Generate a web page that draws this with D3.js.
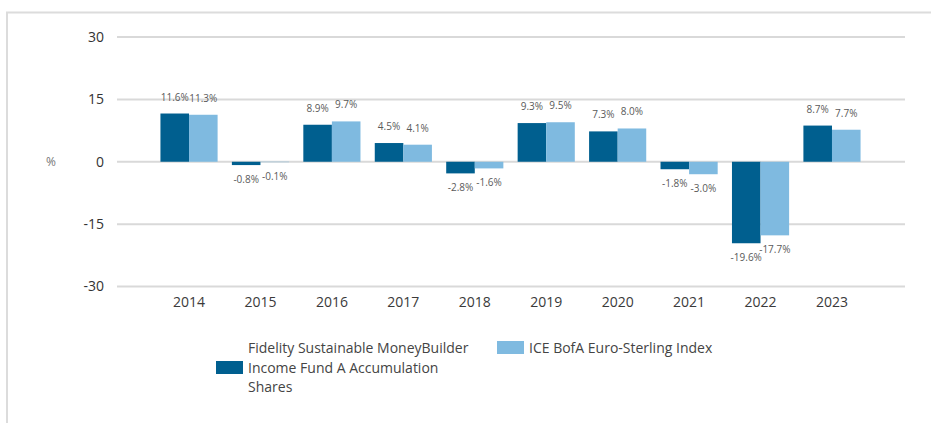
<!DOCTYPE html>
<html>
<head>
<meta charset="utf-8">
<script src="https://cdn.jsdelivr.net/npm/d3@7"></script>
<style>
  body { margin: 0; background: #fff; }
  svg text { font-family: 'Open Sans', sans-serif; }
</style>
</head>
<body>
<div id="chart"></div>
<script>
'use strict';

// Chart data
const years = ['2014', '2015', '2016', '2017', '2018', '2019', '2020', '2021', '2022', '2023'];
const fundValues = [11.6, -0.8, 8.9, 4.5, -2.8, 9.3, 7.3, -1.8, -19.6, 8.7];
const indexValues = [11.3, -0.1, 9.7, 4.1, -1.6, 9.5, 8.0, -3.0, -17.7, 7.7];
const yTicks = [30, 15, 0, -15, -30];
const fundLegendLines = ['Fidelity Sustainable MoneyBuilder', 'Income Fund A Accumulation', 'Shares'];
const indexLegend = 'ICE BofA Euro-Sterling Index';

const palette = { fund: '#005f8f', index: '#7fbae0', grid: '#d9d9d9' };

const width = 931, height = 423;

const svg = d3.select('#chart').append('svg')
    .attr('width', width)
    .attr('height', height);

// Frame
svg.append('line').attr('x1', 6).attr('x2', width).attr('y1', 12.5).attr('y2', 12.5)
    .attr('stroke', '#dcdcdc').attr('stroke-width', 2);
svg.append('line').attr('x1', 7).attr('x2', 7).attr('y1', 12).attr('y2', height)
    .attr('stroke', '#dcdcdc').attr('stroke-width', 2);

// Scales
const scaleY = d3.scaleLinear().domain([-30, 30]).range([286.5, 37]);
const scaleX = d3.scaleBand().domain(years).range([153.3, 867.7]).paddingInner(0.2).paddingOuter(0.1);
const scaleSeries = d3.scaleBand().domain(['fund', 'index']).range([0, scaleX.bandwidth()]);

// Grid lines
svg.append('g').selectAll('line')
    .data(yTicks)
    .join('line')
    .attr('x1', 117).attr('x2', 905)
    .attr('y1', d => scaleY(d)).attr('y2', d => scaleY(d))
    .attr('stroke', palette.grid).attr('stroke-width', 2);

// Y axis labels
const axisY = svg.append('g')
    .attr('transform', 'translate(104, 0)')
    .call(d3.axisLeft(scaleY).tickValues(yTicks).tickFormat(d => String(d)).tickSize(0).tickPadding(0));
axisY.select('.domain').remove();
axisY.selectAll('text').style('font-size', '14px').attr('fill', '#333');

svg.append('text')
    .attr('x', 51).attr('y', scaleY(0)).attr('dy', '0.35em')
    .attr('text-anchor', 'middle')
    .style('font-size', '12px').attr('fill', '#777')
    .text('%');

// X axis labels
const axisX = svg.append('g')
    .attr('transform', 'translate(0, 297)')
    .call(d3.axisBottom(scaleX).tickSize(0).tickPadding(0));
axisX.select('.domain').remove();
axisX.selectAll('text').style('font-size', '14px').attr('fill', '#3a3a3a');

// Bars
const rows = years.map((y, i) => ({ year: y, fund: fundValues[i], index: indexValues[i] }));
const series = ['fund', 'index'];

const groups = svg.append('g').selectAll('g')
    .data(rows)
    .join('g')
    .attr('transform', d => `translate(${scaleX(d.year)}, 0)`);

groups.selectAll('rect')
    .data(d => series.map(k => ({ key: k, value: d[k] })))
    .join('rect')
    .attr('x', d => scaleSeries(d.key))
    .attr('width', scaleSeries.bandwidth())
    .attr('y', d => scaleY(Math.max(0, d.value)))
    .attr('height', d => Math.abs(scaleY(d.value) - scaleY(0)))
    .attr('fill', d => palette[d.key]);

groups.selectAll('text')
    .data(d => series.map(k => ({ key: k, value: d[k] })))
    .join('text')
    .attr('x', d => scaleSeries(d.key) + scaleSeries.bandwidth() / 2)
    .attr('y', d => d.value >= 0 ? scaleY(d.value) - 13 : scaleY(d.value) + 18)
    .attr('text-anchor', 'middle')
    .style('font-size', '10px')
    .attr('fill', '#5a5a5a')
    .text(d => `${d.value.toFixed(1)}%`);

// Legend
const legend = svg.append('g').style('font-size', '14px');
legend.append('rect').attr('x', 216).attr('y', 361).attr('width', 27).attr('height', 13).attr('fill', palette.fund);
legend.append('text').attr('fill', '#444')
    .selectAll('tspan')
    .data(fundLegendLines)
    .join('tspan')
    .attr('x', 248)
    .attr('y', (d, i) => 353 + i * 19.5)
    .text(d => d);
legend.append('rect').attr('x', 497).attr('y', 341).attr('width', 27).attr('height', 13).attr('fill', palette.index);
legend.append('text').attr('x', 529).attr('y', 353).attr('fill', '#444').text(indexLegend);
</script>
</body>
</html>
